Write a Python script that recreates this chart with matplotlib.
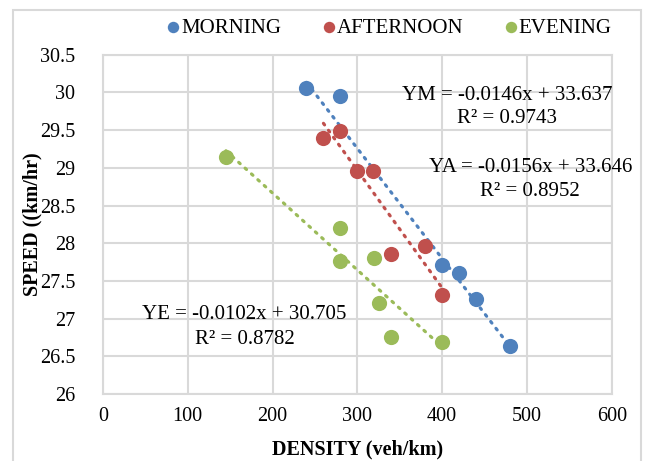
import numpy as np
import matplotlib
matplotlib.use("Agg")
import matplotlib.pyplot as plt
from matplotlib.patches import Rectangle

plt.rcParams['font.family'] = ['Liberation Serif', 'DejaVu Serif']

# data
morning_x = [240, 280, 400, 420, 440, 480]
morning_y = [30.06, 29.95, 27.71, 27.61, 27.26, 26.64]
afternoon_x = [260, 280, 300, 318, 340, 380, 400]
afternoon_y = [29.40, 29.49, 28.96, 28.96, 27.86, 27.96, 27.31]
evening_x = [145, 280, 280, 320, 325, 340, 400]
evening_y = [29.14, 28.20, 27.76, 27.81, 27.21, 26.76, 26.69]

# trendline coefficients (slope, intercept) and R² as labelled
fits = {
    "MORNING": (-0.0146, 33.637, 0.9743, "YM"),
    "AFTERNOON": (-0.0156, 33.646, 0.8952, "YA"),
    "EVENING": (-0.0102, 30.705, 0.8782, "YE"),
}

series = [
    ("MORNING", morning_x, morning_y, "#4F81BD"),
    ("AFTERNOON", afternoon_x, afternoon_y, "#C0504D"),
    ("EVENING", evening_x, evening_y, "#9BBB59"),
]

fig = plt.figure(figsize=(6.46, 4.61), dpi=100)
ax = fig.add_axes([0.1594, 0.1453, 0.7876, 0.736])

for name, xs, ys, col in series:
    ax.scatter(xs, ys, s=120, color=col, label=name, zorder=3, linewidths=0)
    m, b, r2, tag = fits[name]
    xl = np.array([min(xs), max(xs)])
    ax.plot(xl, m * xl + b, color=col, lw=2.3, linestyle=(0, (0.6, 2.1)),
            dash_capstyle='round', zorder=2)

# equation label positions: centre x, line 1 y, line 2 y (data coords)
lab_pos = {"MORNING": (477, 29.96, 29.66), "AFTERNOON": (504, 29.0, 28.68),
           "EVENING": (167, 27.05, 26.72)}
for name, xs, ys, col in series:
    m, b, r2, tag = fits[name]
    xc, y1, y2 = lab_pos[name]
    ax.text(xc, y1, f"{tag} = {m}x + {b}", ha='center', va='center',
            fontsize=15, clip_on=False)
    ax.text(xc, y2, f"R² = {r2}", ha='center', va='center', fontsize=15,
            clip_on=False)

ax.set_xlim(0, 600)
ax.set_ylim(26, 30.5)
ax.set_xticks(np.arange(0, 601, 100))
ax.set_yticks(np.arange(26, 30.51, 0.5))
ax.set_yticklabels([f"{v:g}" for v in np.arange(26, 30.51, 0.5)])
ax.tick_params(axis='both', length=0, labelsize=14.5)
ax.tick_params(axis='y', pad=20)
ax.tick_params(axis='x', pad=9)
ax.grid(True, color='#d9d9d9', lw=1.5)
ax.set_axisbelow(True)
for sp in ax.spines.values():
    sp.set_color('#d9d9d9')
    sp.set_linewidth(1.5)

ax.set_xlabel("DENSITY (veh/km)", fontsize=14.5, fontweight='bold', labelpad=10)
ax.set_ylabel("SPEED ((km/hr)", fontsize=14.5, fontweight='bold', labelpad=-2)

fig.legend(loc='center', bbox_to_anchor=(389 / 646, 1 - 28 / 461), ncol=3,
           frameon=False, fontsize=15, handletextpad=0.05, handlelength=0.7,
           columnspacing=1.9, markerscale=0.75, scatterpoints=1)

fig.patches.append(Rectangle((13 / 646, -0.05), 628 / 646, 1.05 - 10 / 461,
                             transform=fig.transFigure, fill=False,
                             edgecolor='#d9d9d9', lw=1.5))

fig.savefig("out.png", dpi=100)
